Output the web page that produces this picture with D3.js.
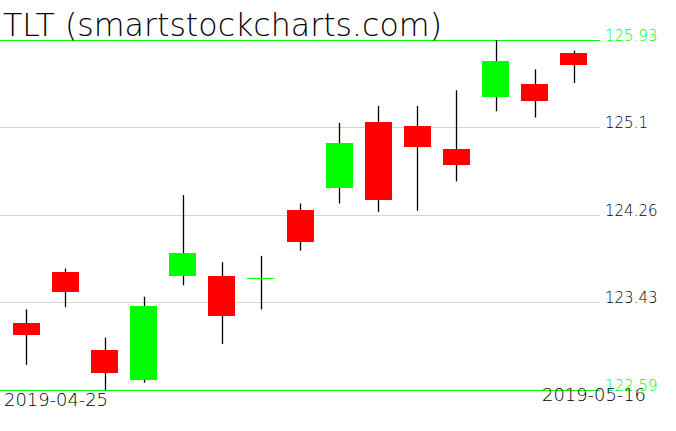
<!DOCTYPE html>
<html>
<head>
<meta charset="utf-8">
<script src="https://cdn.jsdelivr.net/npm/d3@7"></script>
<style>
  body { margin: 0; background: #fff; }
  text { font-family: "DejaVu Sans", sans-serif; font-weight: 200; }
</style>
</head>
<body>
<div id="chart"></div>
<script>
// candles, Apr 26 - May 16
var dates = ["2019-04-26", "2019-04-29", "2019-04-30", "2019-05-01", "2019-05-02",
  "2019-05-03", "2019-05-06", "2019-05-07", "2019-05-08", "2019-05-09",
  "2019-05-10", "2019-05-13", "2019-05-14", "2019-05-15", "2019-05-16"];
var open  = [123.23, 123.72, 122.97, 122.68, 123.68, 123.68, 123.66, 124.31, 124.52, 125.15, 125.11, 124.89, 125.39, 125.51, 125.81];
var high  = [123.36, 123.75, 123.09, 123.48, 124.45, 123.81, 123.87, 124.37, 125.14, 125.30, 125.30, 125.45, 125.93, 125.65, 125.83];
var low   = [122.83, 123.38, 122.59, 122.66, 123.59, 123.03, 123.36, 123.92, 124.37, 124.29, 124.30, 124.58, 125.25, 125.19, 125.52];
var close = [123.12, 123.53, 122.75, 123.39, 123.90, 123.30, 123.66, 124.00, 124.95, 124.41, 124.91, 124.74, 125.73, 125.35, 125.70];

var gridTicks = [125.1, 124.26, 123.43];
var maxTick = 125.93, minTick = 122.59;
var dateLabels = ["2019-04-25", "2019-05-16"];

var w = 676, h = 431;

var svg = d3.select("#chart").append("svg")
  .attr("width", w)
  .attr("height", h);

var x = d3.scaleBand()
  .domain(dates)
  .range([6.75, 593.25]);

var y = d3.scaleLinear()
  .domain([minTick, maxTick])
  .range([390, 40]);

var bodyW = 27;

// grid
svg.selectAll("line.grid")
  .data(gridTicks)
  .enter()
  .append("line")
  .attr("class", "grid")
  .attr("x1", 0).attr("x2", 600)
  .attr("y1", function (d) { return Math.round(y(d)) + 0.5; })
  .attr("y2", function (d) { return Math.round(y(d)) + 0.5; })
  .attr("stroke", "#d3d3d3")
  .attr("stroke-width", 1);

svg.selectAll("text.grid")
  .data(gridTicks)
  .enter()
  .append("text")
  .attr("class", "grid")
  .attr("x", 605)
  .attr("y", function (d) { return Math.round(y(d)) + 1; })
  .attr("font-size", 15)
  .attr("fill", "#000")
  .text(function (d) { return d; });

// min / max lines
[maxTick, minTick].forEach(function (v) {
  svg.append("line")
    .attr("x1", 0).attr("x2", 600)
    .attr("y1", Math.round(y(v)) + 0.5)
    .attr("y2", Math.round(y(v)) + 0.5)
    .attr("stroke", "#00ff00")
    .attr("stroke-width", 1);
  svg.append("text")
    .attr("x", 605)
    .attr("y", Math.round(y(v)) + 1)
    .attr("font-size", 15)
    .attr("fill", "#00ff00")
    .text(v.toFixed(2));
});

// candles
var idx = d3.range(dates.length);

svg.selectAll("line.wick")
  .data(idx)
  .enter()
  .append("line")
  .attr("class", "wick")
  .attr("x1", function (i) { return Math.round(x(dates[i]) + x.bandwidth() / 2) + 0.5; })
  .attr("x2", function (i) { return Math.round(x(dates[i]) + x.bandwidth() / 2) + 0.5; })
  .attr("y1", function (i) { return y(high[i]); })
  .attr("y2", function (i) { return y(low[i]); })
  .attr("stroke", "#000")
  .attr("stroke-width", 1.3);

svg.selectAll("rect.body")
  .data(idx.filter(function (i) { return open[i] !== close[i]; }))
  .enter()
  .append("rect")
  .attr("class", "body")
  .attr("x", function (i) { return Math.round(x(dates[i]) + x.bandwidth() / 2 - bodyW / 2); })
  .attr("width", bodyW)
  .attr("y", function (i) { return Math.round(y(Math.max(open[i], close[i]))); })
  .attr("height", function (i) { return Math.round(y(Math.min(open[i], close[i])) - y(Math.max(open[i], close[i]))); })
  .attr("fill", function (i) { return close[i] > open[i] ? "#00ff00" : "#ff0000"; });

svg.selectAll("line.doji")
  .data(idx.filter(function (i) { return open[i] === close[i]; }))
  .enter()
  .append("line")
  .attr("class", "doji")
  .attr("x1", function (i) { return Math.round(x(dates[i]) + x.bandwidth() / 2 - bodyW / 2); })
  .attr("x2", function (i) { return Math.round(x(dates[i]) + x.bandwidth() / 2 + bodyW / 2); })
  .attr("y1", function (i) { return Math.round(y(open[i])) + 0.5; })
  .attr("y2", function (i) { return Math.round(y(open[i])) + 0.5; })
  .attr("stroke", "#00ff00")
  .attr("stroke-width", 1);

// title
svg.append("text")
  .attr("x", 3)
  .attr("y", 36)
  .attr("font-size", 32)
  .attr("fill", "#000")
  .attr("textLength", 439)
  .attr("lengthAdjust", "spacingAndGlyphs")
  .text("TLT (smartstockcharts.com)");

// date labels
svg.append("text")
  .attr("x", 4)
  .attr("y", 406)
  .attr("font-size", 17)
  .attr("textLength", 104)
  .attr("lengthAdjust", "spacingAndGlyphs")
  .text(dateLabels[0]);

svg.append("text")
  .attr("x", 542)
  .attr("y", 401)
  .attr("font-size", 17)
  .attr("textLength", 104)
  .attr("lengthAdjust", "spacingAndGlyphs")
  .text(dateLabels[1]);
</script>
</body>
</html>
